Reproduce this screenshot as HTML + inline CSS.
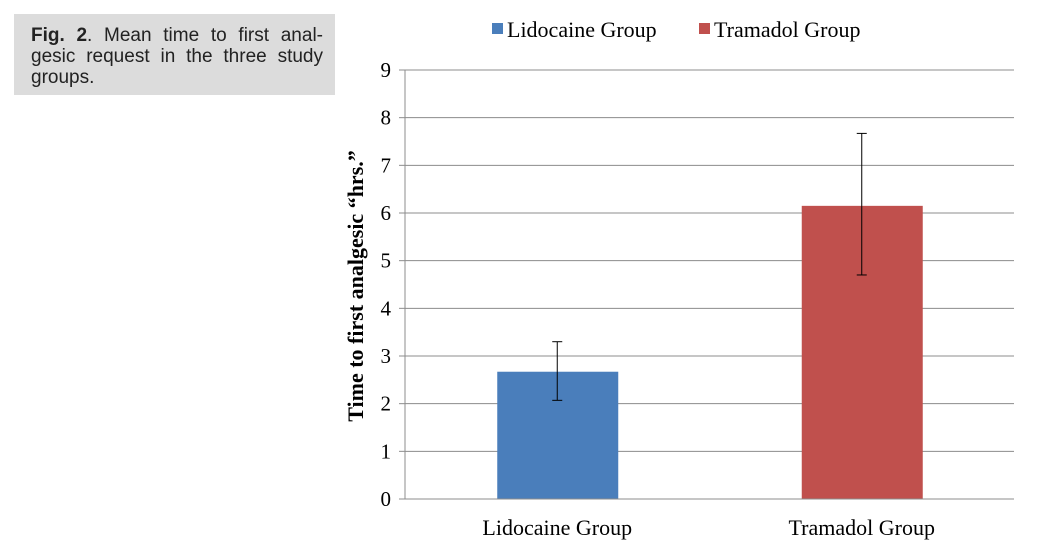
<!DOCTYPE html>
<html><head><meta charset="utf-8"><style>
body{margin:0;width:1038px;height:552px;background:#fff;overflow:hidden;position:relative}
#cap{position:absolute;left:14px;top:14px;width:321px;height:81px;background:#dcdcdc;box-sizing:border-box;padding:11px 12px 0 17px;font:19px/21px "Liberation Sans",sans-serif;color:#222;text-align:justify}
</style></head><body>
<div id="cap"><b>Fig. 2</b>. Mean time to first anal-gesic request in the three study groups.</div>
<svg id="chart" width="1038" height="552" style="position:absolute;left:0;top:0"></svg>
<script>
const categories=["Lidocaine Group","Tramadol Group"];
const values=[2.67,6.15];
const errLow=[2.07,4.7];
const errHigh=[3.3,7.67];
const colors=["#4a7ebb","#c0504d"];
const yTicks=[0,1,2,3,4,5,6,7,8,9];
const NS="http://www.w3.org/2000/svg";
const svg=document.getElementById('chart');
const x0=405,x1=1014,yB=499,yT=70;
const y=v=>yB-(v/9)*(yB-yT);
const bw=(x1-x0)/categories.length;
const xc=i=>x0+bw*(i+0.5);
function mk(t,a,p){const e=document.createElementNS(NS,t);for(const k in a)e.setAttribute(k,a[k]);(p||svg).appendChild(e);return e;}
yTicks.forEach(t=>{
 const g=mk('line',{x1:x0,x2:x1,y1:y(t),y2:y(t),stroke:'#8c8c8c','stroke-width':1});
 
 
 mk('line',{x1:x0-6,x2:x0,y1:y(t),y2:y(t),stroke:'#8c8c8c'});
 const l=mk('text',{x:x0-14,y:y(t)+7,'text-anchor':'end','font-family':'Liberation Serif, serif','font-size':21});
 l.textContent=t;
 
 
});
mk('line',{x1:x0,x2:x0,y1:yT,y2:yB,stroke:'#8c8c8c'});
categories.forEach((c,i)=>{
 const r=mk('rect',{x:xc(i)-60,y:y(values[i]),width:121,height:yB-y(values[i]),fill:colors[i]});
 
 
 mk('line',{x1:xc(i),x2:xc(i),y1:y(errHigh[i]),y2:y(errLow[i]),stroke:'#000'});
 mk('line',{x1:xc(i)-5,x2:xc(i)+5,y1:y(errHigh[i]),y2:y(errHigh[i]),stroke:'#000'});
 mk('line',{x1:xc(i)-5,x2:xc(i)+5,y1:y(errLow[i]),y2:y(errLow[i]),stroke:'#000'});
 const t=mk('text',{x:xc(i),y:535,'text-anchor':'middle','font-family':'Liberation Serif, serif','font-size':22});
 t.textContent=c;
 
 
 const lx=[492,699][i];
 const s=mk('rect',{x:lx,y:23,width:11,height:11,fill:colors[i]});
 
 
 const lt=mk('text',{x:lx+15,y:37,'font-family':'Liberation Serif, serif','font-size':22});
 lt.textContent=c;
 
 
});
mk('line',{x1:x0,x2:x1,y1:yB,y2:yB,stroke:'#8c8c8c'});
const yt=mk('text',{x:0,y:0,transform:'translate(363,286) rotate(-90)','text-anchor':'middle','font-family':'Liberation Serif, serif','font-size':22,'font-weight':'bold'});
yt.textContent='Time to first analgesic \u201chrs.\u201d';


</script>
</body></html>
